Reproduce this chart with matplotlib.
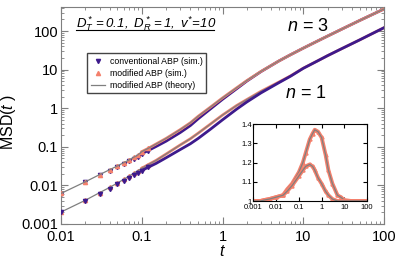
import numpy as np
import matplotlib
matplotlib.use('Agg')
import matplotlib.pyplot as plt
from matplotlib.lines import Line2D

plt.rcParams['font.family'] = 'Liberation Sans'
plt.rcParams['mathtext.fontset'] = 'custom'
plt.rcParams['mathtext.rm'] = 'Liberation Sans:italic'
plt.rcParams['mathtext.it'] = 'Liberation Sans:italic'

# time points of the main panel
t = [0.01, 0.02, 0.03, 0.04, 0.05, 0.06, 0.07, 0.08, 0.09, 0.1, 0.12, 0.15, 0.2, 0.3, 0.4, 0.5,
     0.7, 1, 1.5, 2, 3, 5, 7, 10, 15, 20, 30, 50, 70, 100]

# n = 1
n1_conv = [0.0020, 0.0040, 0.0061, 0.0083, 0.0106, 0.0131, 0.0158, 0.0185, 0.0213, 0.0243,
           0.0295, 0.037, 0.052, 0.085, 0.12, 0.165, 0.28, 0.50, 0.95, 1.45, 2.5, 4.6, 6.8, 10.8,
           16.8, 23, 35, 59, 84, 122]
n1_mod = [0.00204, 0.00412, 0.00647, 0.00888, 0.01155, 0.0144, 0.0175, 0.0209, 0.0243, 0.0279,
          0.0345, 0.0444, 0.065, 0.112, 0.162, 0.226, 0.381, 0.665, 1.18, 1.68, 2.75, 4.78, 6.94,
          10.9, 16.8, 23, 35, 59, 84, 122]

# n = 3
n3_conv = [0.00608, 0.0120, 0.0181, 0.0241, 0.0296, 0.0358, 0.0418, 0.0486, 0.0554, 0.0664,
           0.080, 0.1017, 0.140, 0.235, 0.356, 0.534, 0.938, 1.70, 3.21, 5.05, 8.91, 16.8, 24.5,
           36, 55, 74, 112, 188, 262, 373]
n3_mod = [0.0062, 0.0124, 0.019, 0.0255, 0.032, 0.039, 0.046, 0.054, 0.062, 0.075,
          0.091, 0.118, 0.165, 0.28, 0.42, 0.62, 1.05, 1.85, 3.4, 5.2, 9.0, 16.8, 24.5, 36,
          55, 74, 112, 188, 262, 373]

# inset: ratio modified / conventional
t_in = [0.001, 0.002, 0.003, 0.005, 0.01, 0.02, 0.03, 0.05, 0.1, 0.15, 0.2, 0.3, 0.4, 0.5,
        0.7, 1, 1.5, 2, 3, 5, 7, 10, 20, 50, 100]
ratio_n1 = [1.0, 1.0, 1.005, 1.01, 1.02, 1.03, 1.06, 1.09, 1.15, 1.20, 1.25, 1.32, 1.35, 1.37,
            1.36, 1.33, 1.24, 1.16, 1.09, 1.03, 1.02, 1.005, 1.0, 1.0, 1.0]
ratio_n3 = [1.0, 1.0, 1.005, 1.01, 1.02, 1.03, 1.05, 1.08, 1.13, 1.16, 1.18, 1.19, 1.18, 1.16,
            1.12, 1.09, 1.05, 1.03, 1.01, 1.0, 1.0, 1.0, 1.0, 1.0, 1.0]

purple = '#3d1a8c'
orange = '#f4806c'
grey = '#7f7f7f'

fig = plt.figure(figsize=(3.99, 2.63), dpi=100)
ax = fig.add_axes([0.1529, 0.1483, 0.8095, 0.8251])

# markers only where the sampling is still visible, a thick band beyond
nm = 11
for conv, mod, zc in [(n3_conv, n3_mod, 1), (n1_conv, n1_mod, 5)]:
    ax.plot(t[9:], conv[9:], color=purple, lw=2.0, zorder=zc)
    ax.plot(t[:nm], conv[:nm], ls='none', marker='v', ms=3, color=purple, zorder=zc)
    ax.plot(t[9:], mod[9:], color=orange, lw=2.0, zorder=3)
    ax.plot(t[:nm], mod[:nm], ls='none', marker='^', ms=3, color=orange, zorder=3)
    ax.plot(t, mod, color=grey, lw=0.9, zorder=4)

ax.set_xscale('log')
ax.set_yscale('log')
ax.set_xlim(0.01, 100)
ax.set_ylim(0.001, 420)
ax.set_xticks([0.01, 0.1, 1, 10, 100], ['0.01', '0.1', '1', '10', '100'])
ax.set_yticks([0.001, 0.01, 0.1, 1, 10, 100], ['0.001', '0.01', '0.1', '1', '10', '100'])
ax.tick_params(which='both', direction='in', top=True, right=True, color=grey,
               labelsize=10.5, pad=2)
ax.tick_params(axis='x', pad=4.5)
ax.tick_params(which='major', length=5)
ax.tick_params(which='minor', length=2.5)
for s in ax.spines.values():
    s.set_color(grey)
ax.set_xlabel('$t$', fontsize=11.5, labelpad=0)
ax.set_ylabel('MSD($t$ )', fontsize=11.5)
ax.yaxis.set_label_coords(-0.133, 0.47)

ax.text(0.045, 0.925, r'$D^*_T = 0.1,\ D^*_R = 1,\ v^{*}\!=\!10$', transform=ax.transAxes,
        fontsize=9.5, ha='left', va='center')
ax.add_line(Line2D([0.045, 0.475], [0.895, 0.895], transform=ax.transAxes, color='black', lw=0.8))
ax.text(0.70, 0.91, '$n$ = 3', transform=ax.transAxes, fontsize=13, ha='left', va='center')
ax.text(0.695, 0.60, '$n$ = 1', transform=ax.transAxes, fontsize=13, ha='left', va='center')

handles = [Line2D([], [], ls='none', marker='v', ms=3, color=purple),
           Line2D([], [], ls='none', marker='^', ms=3, color=orange),
           Line2D([], [], color=grey, lw=0.9)]
ax.legend(handles, ['conventional ABP (sim.)', 'modified ABP (sim.)', 'modified ABP (theory)'],
          loc='upper left', bbox_to_anchor=(0.081, 0.787), fontsize=6.3, fancybox=False,
          edgecolor='#444444', framealpha=1, handlelength=1.6, handletextpad=0.6,
          borderpad=0.4, labelspacing=0.35, borderaxespad=0)

# inset
axi = fig.add_axes([0.6353, 0.2357, 0.2845, 0.2928])
for r in [ratio_n1, ratio_n3]:
    axi.plot(t_in, r, color=orange, lw=2.8, marker='^', ms=2.2)
    axi.plot(t_in, r, color=grey, lw=0.9)
axi.set_xscale('log')
axi.set_xlim(0.001, 100)
axi.set_ylim(1.0, 1.4)
axi.set_xticks([0.001, 0.01, 0.1, 1, 10, 100], ['0.001', '0.01', '0.1', '1', '10', '100'])
axi.set_yticks([1.0, 1.1, 1.2, 1.3, 1.4], ['1', '1.1', '1.2', '1.3', '1.4'])
axi.tick_params(which='both', direction='in', top=True, right=True, labelsize=5.5, pad=1.2)
axi.tick_params(axis='x', pad=2.2)
axi.tick_params(which='major', length=3)
axi.tick_params(which='minor', length=1.5)

fig.savefig('out.png', dpi=100)
